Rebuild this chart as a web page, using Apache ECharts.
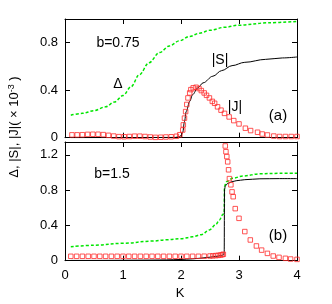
<!DOCTYPE html>
<html>
<head>
<meta charset="utf-8">
<script src="https://cdn.jsdelivr.net/npm/echarts@6/dist/echarts.min.js"></script>
<style>
html,body{margin:0;padding:0;background:#fff;}
#c{width:332px;height:304px;}
</style>
</head>
<body>
<div id="c"></div>
<script>
// ---- data ----
const xTicks = [0, 1, 2, 3, 4];
const topYTicks = [0, 0.4, 0.8];
const botYTicks = [0, 0.4, 0.8, 1.2];

// panel (a), b = 0.75
const topDeltaK = [0.1,0.3,0.5,0.7,0.85,1.0,1.14,1.28,1.45,1.63,1.8,1.97,2.15,2.32,2.5,2.75,3.0,3.5,4.0];
const topDeltaV = [0.19,0.205,0.228,0.26,0.3,0.355,0.43,0.53,0.632,0.717,0.773,0.816,0.853,0.881,0.905,0.93,0.948,0.968,0.98];

const topSK = [0.1,1.9,1.97,2.0,2.03,2.06,2.09,2.15,2.2,2.29,2.38,2.55,2.7,2.88,3.1,3.46,3.75,4.0];
const topSV = [0,0.002,0.008,0.018,0.045,0.136,0.22,0.306,0.363,0.42,0.462,0.518,0.565,0.607,0.635,0.66,0.672,0.68];

const topJK = [0.12,0.21,0.3,0.39,0.48,0.57,0.66,0.75,0.84,0.93,1.02,1.11,1.2,1.29,1.38,1.47,1.56,1.65,1.74,1.83,1.92,1.98,
  2.03,2.04,2.06,2.08,2.10,2.12,2.15,2.17,2.21,2.26,2.31,2.35,2.40,2.44,2.49,2.54,2.58,2.63,2.69,2.75,2.83,2.91,
  3.0,3.11,3.2,3.32,3.4,3.49,3.6,3.7,3.8,3.9,4.0];
const topJV = [0.024,0.024,0.025,0.028,0.029,0.029,0.026,0.02,0.014,0.009,0.008,0.01,0.013,0.013,0.01,0.006,0.003,0.004,0.006,0.008,0.012,0.025,
  0.065,0.108,0.165,0.22,0.28,0.335,0.377,0.405,0.42,0.425,0.414,0.397,0.377,0.357,0.335,0.306,0.29,0.26,0.232,0.205,0.175,0.144,
  0.116,0.08,0.06,0.046,0.031,0.023,0.014,0.01,0.01,0.01,0.01];

// panel (b), b = 1.5
const botDeltaK = [0.1,0.5,1.0,1.5,1.75,2.0,2.2,2.35,2.49,2.6,2.66,2.72,2.745,2.75,2.78,2.89,3.07,3.36,3.7,4.0];
const botDeltaV = [0.158,0.175,0.197,0.222,0.237,0.25,0.27,0.295,0.348,0.41,0.46,0.52,0.55,0.84,0.895,0.934,0.96,0.985,0.99,0.99];

const botSK = [0.1,0.5,1.0,1.5,1.75,2.0,2.2,2.31,2.45,2.55,2.65,2.7,2.735,2.745,2.75,2.765,2.78,2.81,2.88,2.95,3.1,3.36,3.7,4.0];
const botSV = [0.003,0.003,0.005,0.007,0.009,0.014,0.021,0.027,0.036,0.044,0.053,0.06,0.066,0.1,0.81,0.845,0.862,0.877,0.895,0.906,0.918,0.928,0.93,0.93];

const botJK = [0.1,0.2,0.3,0.4,0.5,0.6,0.7,0.8,0.9,1.0,1.1,1.2,1.3,1.4,1.5,1.6,1.7,1.8,1.9,2.0,2.1,2.2,2.3,2.4,
  2.5,2.55,2.6,2.64,2.68,2.71,2.73,
  2.763,2.775,2.79,2.805,2.82,2.835,2.86,2.88,2.90,2.935,3.0,3.1,3.195,3.3,3.39,3.49,3.59,3.69,3.8,3.89,4.0];
const botJV = [0.05,0.05,0.05,0.05,0.05,0.05,0.05,0.05,0.05,0.05,0.05,0.05,0.05,0.05,0.05,0.05,0.05,0.05,0.05,0.05,0.05,0.05,0.05,0.051,
  0.053,0.055,0.058,0.06,0.064,0.068,0.073,
  1.30,1.235,1.18,1.12,1.03,0.93,0.86,0.78,0.725,0.59,0.48,0.33,0.235,0.167,0.12,0.083,0.053,0.038,0.027,0.019,0.015];

// ---- helpers ----
const zip = (k, v) => k.map((x, i) => [x, v[i]]);
const FONT = 'Liberation Sans, Arial, Helvetica, sans-serif';
const GREEN = '#00e600';
const RED = '#ff2a2a';

function xAx(grid, pos, showLabels) {
  return {
    type: 'value', gridIndex: grid, position: pos, min: 0, max: 4, interval: 1,
    axisLine: { show: true, onZero: false, lineStyle: { color: '#000', width: 1 } },
    axisTick: { show: true, inside: true, length: 5, lineStyle: { color: '#000' } },
    axisLabel: { show: showLabels, color: '#000', fontSize: 13, fontFamily: FONT, margin: 8 },
    splitLine: { show: false }
  };
}
function yAx(grid, pos, max, showLabels) {
  return {
    type: 'value', gridIndex: grid, position: pos, min: 0, max: max, interval: 0.4,
    axisLine: { show: true, onZero: false, lineStyle: { color: '#000', width: 1 } },
    axisTick: { show: true, inside: true, length: 5, lineStyle: { color: '#000' } },
    axisLabel: { show: showLabels, showMaxLabel: false, color: '#000', fontSize: 13, fontFamily: FONT, margin: 7 },
    splitLine: { show: false }
  };
}
function lineS(xi, yi, data, color, dashed, w) {
  return {
    type: 'line', xAxisIndex: xi, yAxisIndex: yi, data: data, symbol: 'none',
    smooth: 0.35, smoothMonotone: 'x', animation: false, z: 2,
    lineStyle: { color: color, width: w, type: dashed ? [3, 2] : 'solid' }
  };
}
function sqS(xi, yi, data) {
  return {
    type: 'scatter', xAxisIndex: xi, yAxisIndex: yi, data: data, symbol: 'rect', symbolSize: 4.5,
    animation: false, z: 3,
    itemStyle: { color: 'rgba(255,255,255,0)', borderColor: RED, borderWidth: 1 }
  };
}
function txt(x, y, s, size) {
  return { type: 'text', x: x, y: y, z: 10,
    style: { text: s, fontSize: size || 14, fontFamily: FONT, fill: '#000', align: 'center', verticalAlign: 'middle' } };
}

const chart = echarts.init(document.getElementById('c'), null, { renderer: 'canvas' });
chart.setOption({
  backgroundColor: '#fff',
  animation: false,
  grid: [
    { left: 65, top: 19, width: 232, height: 118.7 },
    { left: 65, top: 142, width: 232, height: 118.7 }
  ],
  xAxis: [xAx(0, 'bottom', false), xAx(0, 'top', false), xAx(1, 'bottom', true), xAx(1, 'top', false)],
  yAxis: [yAx(0, 'left', 1.0, true), yAx(0, 'right', 1.0, false), yAx(1, 'left', 1.345, true), yAx(1, 'right', 1.345, false)],
  series: [
    lineS(0, 0, zip(topDeltaK, topDeltaV), GREEN, true, 1.5),
    lineS(0, 0, zip(topSK, topSV), '#000', false, 1),
    sqS(0, 0, zip(topJK, topJV)),
    lineS(2, 2, zip(botDeltaK, botDeltaV), GREEN, true, 1.5),
    lineS(2, 2, zip(botSK, botSV), '#000', false, 1),
    sqS(2, 2, zip(botJK, botJV))
  ],
  graphic: [
    txt(118, 43, 'b=0.75', 14),
    txt(118, 84, 'Δ', 14),
    txt(220, 60, '|S|', 14),
    txt(235, 107, '|J|', 14),
    txt(278, 116, '(a)', 15),
    txt(112, 174, 'b=1.5', 14),
    txt(278, 236, '(b)', 15),
    txt(180, 293, 'K', 13),
    { type: 'text', x: 14, y: 127, rotation: Math.PI / 2, z: 10,
      style: { text: 'Δ, |S|, |J|( × 10{sup|-3} )', fontSize: 13, fontFamily: FONT, fill: '#000',
        align: 'center', verticalAlign: 'middle',
        rich: { sup: { fontSize: 9, fontFamily: FONT, fill: '#000', verticalAlign: 'top' } } } }
  ]
});
</script>
</body>
</html>
